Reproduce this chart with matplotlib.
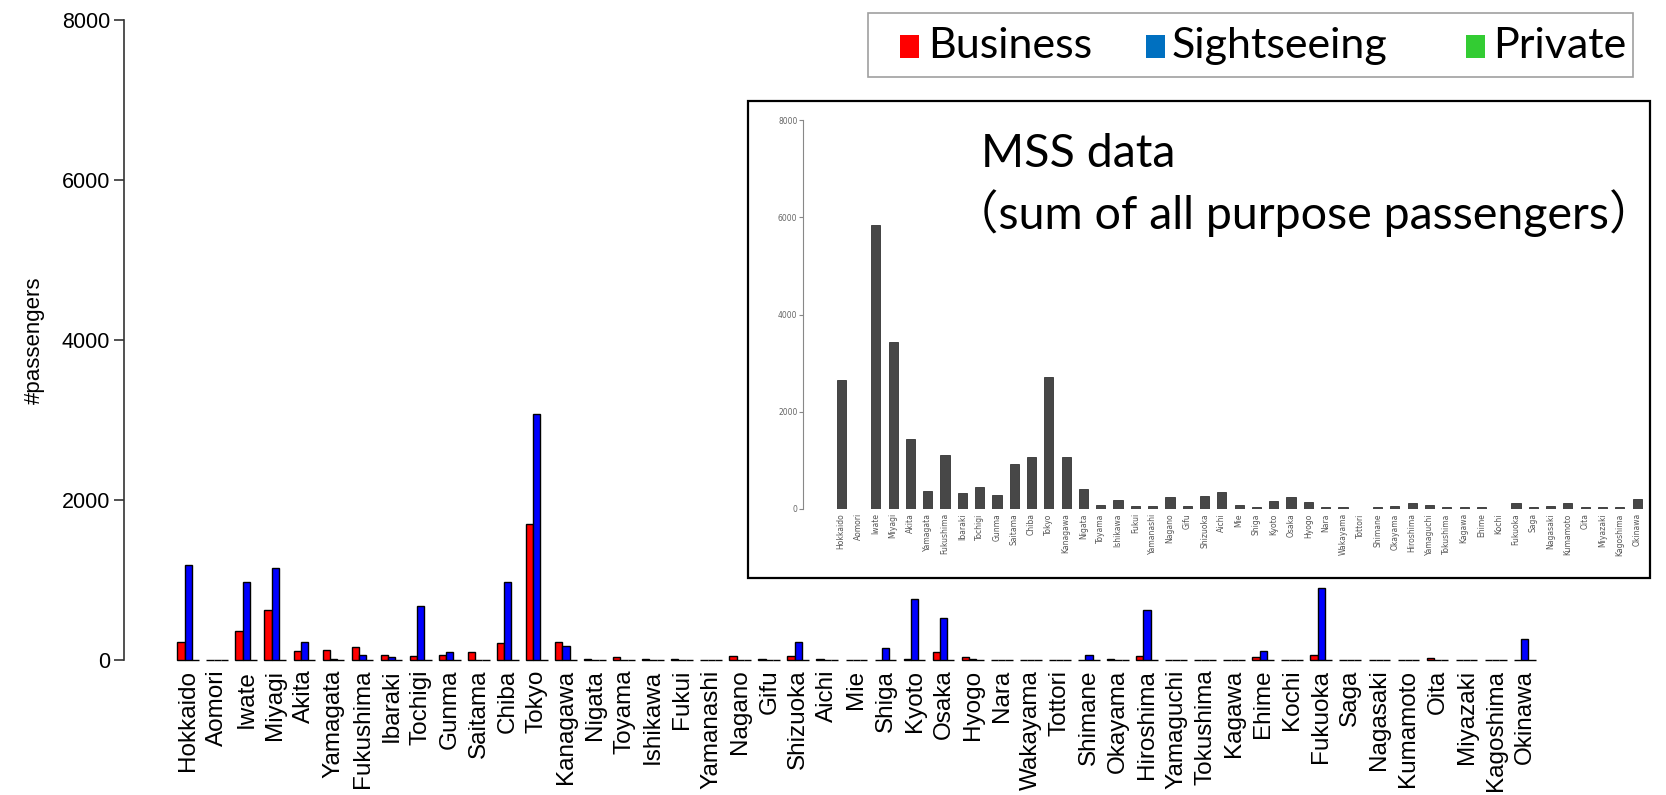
import matplotlib.pyplot as plt
from matplotlib.patches import Rectangle
import numpy as np

prefectures = ["Hokkaido", "Aomori", "Iwate", "Miyagi", "Akita", "Yamagata", "Fukushima",
               "Ibaraki", "Tochigi", "Gunma", "Saitama", "Chiba", "Tokyo", "Kanagawa",
               "Nigata", "Toyama", "Ishikawa", "Fukui", "Yamanashi", "Nagano", "Gifu",
               "Shizuoka", "Aichi", "Mie", "Shiga", "Kyoto", "Osaka", "Hyogo", "Nara",
               "Wakayama", "Tottori", "Shimane", "Okayama", "Hiroshima", "Yamaguchi",
               "Tokushima", "Kagawa", "Ehime", "Kochi", "Fukuoka", "Saga", "Nagasaki",
               "Kumamoto", "Oita", "Miyazaki", "Kagoshima", "Okinawa"]

business = [229, 0, 362, 625, 112, 129, 162, 62, 46, 62, 96, 212, 1696, 225,
            15, 33, 10, 10, 0, 50, 10, 50, 10, 0, 0, 15, 96, 33, 0,
            0, 0, 0, 17, 50, 0, 0, 0, 33, 0, 62, 0, 0,
            0, 20, 0, 0, 0]
sightseeing = [1187, 0, 971, 1154, 225, 12, 62, 33, 675, 96, 0, 971, 3071, 179,
               5, 3, 5, 5, 0, 3, 5, 229, 5, 0, 146, 758, 529, 17, 0,
               0, 0, 62, 0, 625, 0, 0, 0, 112, 0, 904, 0, 0,
               0, 0, 0, 0, 262]
private = [0] * len(prefectures)

# MSS data, sum of all purposes (inset)
mss_total = [2648, 10, 5836, 3433, 1440, 362, 1113, 328, 444, 280, 928, 1078, 2724, 1067,
             407, 86, 185, 65, 65, 243, 65, 260, 359, 86, 50, 160, 243, 147, 33,
             50, 10, 50, 65, 120, 86, 50, 33, 50, 10, 133, 50, 65,
             123, 40, 40, 50, 205]

W, H = 1666, 795
fig = plt.figure(figsize=(W / 100, H / 100), dpi=100)

# ---- main chart ----
ax = fig.add_axes([124 / W, 135 / H, 1429 / W, 640 / H])
n = len(prefectures)
x = np.arange(n) * 4
ax.bar(x, business, width=1, align='edge', color='#ff0000', edgecolor='black', lw=1, clip_on=False)
ax.bar(x + 1, sightseeing, width=1, align='edge', color='#0000ff', edgecolor='black', lw=1, clip_on=False)
ax.bar(x + 2, private, width=1, align='edge', color='#00cc00', edgecolor='black', lw=1, clip_on=False)
ax.set_xlim(-7.34, 189.4)
ax.set_ylim(0, 8000)
for s in ['top', 'right', 'bottom']:
    ax.spines[s].set_visible(False)
ax.spines['left'].set_color('#333333')
ax.spines['left'].set_linewidth(1.2)
ax.set_yticks([0, 2000, 4000, 6000, 8000])
ax.tick_params(axis='y', length=7, width=1.2, color='#333333', pad=3, labelsize=15.5)
for lab in ax.get_yticklabels():
    lab.set_family('Liberation Sans')
ax.set_xticks(x + 1.5)
ax.set_xticklabels(prefectures, rotation=90, fontsize=17.5, family='Liberation Sans')
ax.tick_params(axis='x', length=0, pad=7)
fig.text(34 / W, 1 - 340 / H, '#passengers', rotation=90, ha='center', va='center',
         fontsize=16, family='Liberation Sans')

# ---- legend ----
fig.add_artist(Rectangle((868 / W, 1 - 77 / H), 765 / W, 64 / H, transform=fig.transFigure,
                         facecolor='white', edgecolor='#a0a0a0', lw=1.2))
for sx, tx, col, name in [(900, 928, '#ff0000', 'Business'),
                          (1146, 1172, '#0070c0', 'Sightseeing'),
                          (1466, 1493, '#33cc33', 'Private')]:
    fig.add_artist(Rectangle((sx / W, 1 - 58 / H), 19 / W, 23 / H, transform=fig.transFigure,
                             facecolor=col, edgecolor='none'))
    fig.text(tx / W, 1 - 46 / H, name, ha='left', va='center', fontsize=31, family='Lato')

# ---- inset with MSS data ----
fig.add_artist(Rectangle((748 / W, 1 - 578 / H), 902 / W, 477 / H, transform=fig.transFigure,
                         facecolor='white', edgecolor='black', lw=1.6, zorder=1))
ax2 = fig.add_axes([803 / W, 286 / H, 845 / W, 389 / H], zorder=2)
ax2.patch.set_alpha(0)
xi = np.arange(n)
ax2.bar(xi, mss_total, width=0.53, color='#474747', edgecolor='#333333', lw=0.6)
ax2.set_xlim(-2.21, 46.63)
ax2.set_ylim(0, 8000)
for s in ['top', 'right', 'bottom']:
    ax2.spines[s].set_visible(False)
ax2.spines['left'].set_color('#888888')
ax2.spines['left'].set_linewidth(0.8)
ax2.set_yticks([0, 2000, 4000, 6000, 8000])
ax2.tick_params(axis='y', length=3, width=0.8, color='#888888', pad=1, labelsize=5.5, labelcolor='#666666')
ax2.set_xticks(xi)
ax2.set_xticklabels(prefectures, rotation=90, fontsize=5.5, color='#555555')
ax2.tick_params(axis='x', length=0, pad=3)

fig.text(981 / W, 1 - 167 / H, 'MSS data', ha='left', va='baseline', fontsize=33.5,
         family=['Lato', 'Noto Sans CJK JP'], zorder=3)
fig.text(952 / W, 1 - 229 / H, '（sum of all purpose passengers）', ha='left', va='baseline',
         fontsize=33.5, family=['Lato', 'Noto Sans CJK JP'], zorder=3)

fig.savefig('out.png', dpi=100)
